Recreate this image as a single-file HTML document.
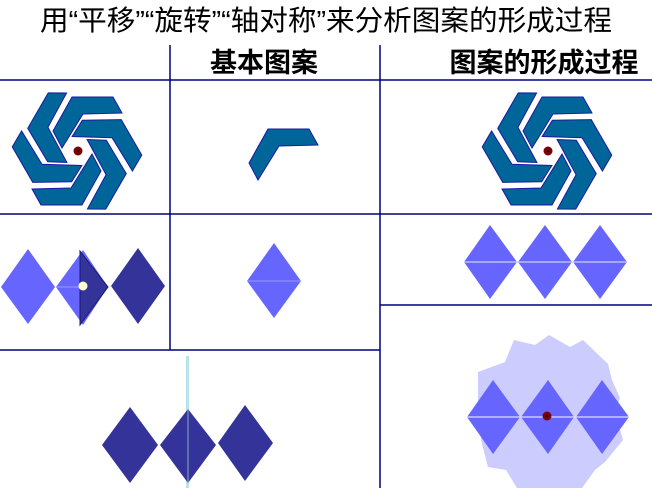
<!DOCTYPE html>
<html><head><meta charset="utf-8"><style>
html,body{margin:0;padding:0;background:#fff;}
svg{display:block;}
</style></head><body>
<svg width="652" height="488" viewBox="0 0 652 488" xmlns="http://www.w3.org/2000/svg">
<defs>
<g id="logo">
  <g fill="#006699" stroke="#1a1aa0" stroke-width="1">
    <polygon id="pc" points="-5,-54 36,-54 45,-38 6,-37 -15,-3 -24,-20"/>
    <use href="#pc" transform="rotate(60)"/>
    <use href="#pc" transform="rotate(120)"/>
    <use href="#pc" transform="rotate(180)"/>
    <use href="#pc" transform="rotate(240)"/>
    <use href="#pc" transform="rotate(300)"/>
  </g>
  <circle cx="1" cy="0" r="4.5" fill="#800000"/>
  <circle cx="1" cy="0" r="1.3" fill="#000"/>
</g>
</defs>
<text x="326" y="30" font-family="'Liberation Sans','Noto Sans CJK SC',sans-serif" font-size="28" text-anchor="middle" fill="#000" textLength="572" lengthAdjust="spacingAndGlyphs">用“平移”“旋转”“轴对称”来分析图案的形成过程</text>
<text x="264" y="72" font-family="'Liberation Sans','Noto Sans CJK SC',sans-serif" font-size="27" font-weight="bold" text-anchor="middle" fill="#000">基本图案</text>
<text x="544" y="72" font-family="'Liberation Sans','Noto Sans CJK SC',sans-serif" font-size="27" font-weight="bold" text-anchor="middle" fill="#000">图案的形成过程</text>
<g stroke="#000080" stroke-width="1.5">
<line x1="0" y1="80" x2="652" y2="80"/>
<line x1="0" y1="214" x2="652" y2="214"/>
<line x1="0" y1="350" x2="380" y2="350"/>
<line x1="380" y1="305" x2="652" y2="305"/>
<line x1="170" y1="45" x2="170" y2="350"/>
<line x1="380" y1="45" x2="380" y2="488"/>
</g>
<use href="#logo" transform="translate(77,151)"/>
<use href="#logo" transform="translate(547,151)"/>
<polygon points="268,129 309,129 318,145 279,146 258,180 249,163" fill="#006699" stroke="#1a1aa0" stroke-width="1"/>
<polygon points="28,249 55,287 28,324 1,287" fill="#6666ff"/>
<polygon points="83,250 108,287 83,325 56,287" fill="#6666ff"/>
<line x1="56" y1="287" x2="80" y2="287" stroke="#9999ff" stroke-width="1"/>
<polygon points="80,251 108,287 80,325" fill="#333399" stroke="#1a1a70" stroke-width="1"/>
<polygon points="138,248 165,286 138,324 111,286" fill="#333399"/>
<circle cx="83" cy="286" r="4.5" fill="#ffffcc"/>
<polygon points="274,243 301,281 274,318 247,281" fill="#6666ff"/>
<line x1="247" y1="281" x2="301" y2="281" stroke="#9999ff" stroke-width="1"/>
<g fill="#6666ff">
<polygon points="490,225 517,262 490,299 464,262"/>
<polygon points="545,225 572,262 545,299 518,262"/>
<polygon points="600,225 627,262 600,299 573,262"/>
</g>
<line x1="464" y1="262" x2="627" y2="262" stroke="#ccccff" stroke-width="1.2"/>
<rect x="186" y="356" width="3" height="132" fill="#b8e4e8"/>
<g fill="#333399">
<polygon points="130,407 158,445 130,483 102,445"/>
<polygon points="188,409 216,445 188,483 160,445"/>
<polygon points="245,405 273,443 245,481 218,443"/>
</g>
<line x1="188" y1="409" x2="188" y2="483" stroke="#8aa8c8" stroke-width="1"/>
<polygon fill="#ccccff" points="549,335 570,347 583,340 608,364 612,380 620,398 615,412 623,440 605,462 595,470 582,488 517,488 506,470 488,467 481,440 478,412 478,372 505,362 514,340 535,345"/>
<g fill="#6666ff">
<polygon points="493,380 520,417 493,454 467,417"/>
<polygon points="548,380 574,417 548,454 521,417"/>
<polygon points="602,380 629,417 602,454 576,417"/>
</g>
<line x1="467" y1="417" x2="629" y2="417" stroke="#ddddff" stroke-width="1.2"/>
<circle cx="547" cy="416" r="4.5" fill="#800000"/>
<circle cx="547" cy="416" r="1.3" fill="#000"/>
</svg>
</body></html>
